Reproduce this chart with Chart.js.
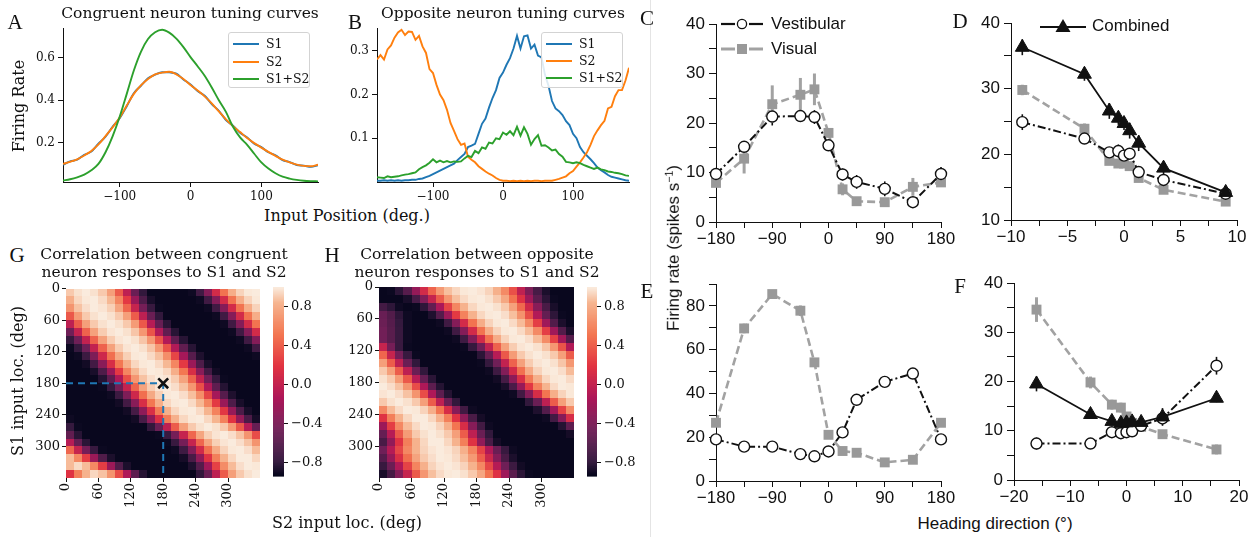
<!DOCTYPE html>
<html>
<head>
<meta charset="utf-8">
<title>Tuning curves, correlation maps and heading tuning</title>
<script src="https://cdn.jsdelivr.net/npm/chart.js@4.4.1/dist/chart.umd.min.js"></script>
<style>
  html, body { margin: 0; padding: 0; background: #fff; }
  #fig { position: relative; width: 1256px; height: 537px; overflow: hidden; background: #fff; }
  #fig canvas { position: absolute; }
  .txt { position: absolute; white-space: nowrap; color: #111; transform: translate(-50%, -50%); line-height: 1.15; }
  .serif { font-family: "DejaVu Serif", serif; }
  .sans { font-family: "Liberation Sans", Arial, sans-serif; }
  .letter { font-family: "Liberation Serif", "Times New Roman", serif; }
  .legend { position: absolute; background: rgba(255,255,255,0.85); border: 1px solid #d3d3d3; border-radius: 3px; box-sizing: border-box; }
  .legend span { position: absolute; }
  .txt sup { font-size: 0.62em; vertical-align: 0.55em; }
  .sep { position: absolute; left: 650px; top: 0; width: 1px; height: 537px; background: #e4e4e4; }
</style>
</head>
<body>
<div id="fig"><div class="sep"></div></div>
<script>
// ---------- A: congruent neuron tuning curves ----------
const posA = [-180,-170,-160,-150,-140,-130,-120,-110,-100,-90,-80,-70,-60,-50,-40,-30,-20,-10,0,10,20,30,40,50,60,70,80,90,100,110,120,130,140,150,160,170,180];
const congS1 = [0.096,0.112,0.120,0.143,0.158,0.195,0.228,0.275,0.315,0.372,0.433,0.468,0.503,0.520,0.532,0.531,0.525,0.498,0.474,0.443,0.421,0.382,0.350,0.307,0.280,0.247,0.225,0.195,0.179,0.155,0.140,0.118,0.109,0.095,0.092,0.086,0.094];
const congS2 = [0.100,0.110,0.122,0.140,0.161,0.192,0.231,0.272,0.318,0.375,0.430,0.470,0.500,0.522,0.530,0.534,0.522,0.500,0.472,0.446,0.418,0.385,0.347,0.310,0.278,0.250,0.222,0.198,0.177,0.157,0.138,0.120,0.107,0.097,0.091,0.089,0.096];
const congSum = [0.022,0.028,0.037,0.050,0.070,0.100,0.155,0.230,0.322,0.430,0.540,0.628,0.688,0.720,0.732,0.718,0.690,0.650,0.603,0.560,0.515,0.460,0.400,0.345,0.275,0.225,0.190,0.148,0.107,0.078,0.056,0.040,0.031,0.025,0.021,0.019,0.018];

// ---------- B: opposite neuron tuning curves ----------
const posB = [-180,-175,-170,-165,-160,-155,-150,-145,-140,-135,-130,-125,-120,-115,-110,-105,-100,-95,-90,-85,-80,-75,-70,-65,-60,-55,-50,-45,-40,-35,-30,-25,-20,-15,-10,-5,0,5,10,15,20,25,30,35,40,45,50,55,60,65,70,75,80,85,90,95,100,105,110,115,120,125,130,135,140,145,150,155,160,165,170,175,180];
const oppS1 = [0.003,0.003,0.004,0.003,0.004,0.003,0.004,0.003,0.004,0.004,0.005,0.005,0.007,0.008,0.011,0.014,0.018,0.022,0.026,0.030,0.034,0.038,0.042,0.050,0.057,0.064,0.080,0.083,0.087,0.110,0.133,0.145,0.170,0.192,0.210,0.238,0.250,0.268,0.283,0.305,0.334,0.305,0.333,0.335,0.305,0.314,0.289,0.285,0.245,0.220,0.185,0.168,0.162,0.153,0.139,0.130,0.110,0.100,0.080,0.068,0.060,0.052,0.043,0.033,0.027,0.022,0.016,0.012,0.010,0.008,0.006,0.004,0.003];
const oppS2 = [0.280,0.290,0.280,0.303,0.312,0.330,0.342,0.348,0.336,0.344,0.343,0.325,0.334,0.310,0.295,0.258,0.249,0.222,0.200,0.187,0.165,0.135,0.117,0.098,0.085,0.088,0.058,0.051,0.045,0.036,0.030,0.024,0.019,0.015,0.009,0.005,0.003,0.003,0.002,0.003,0.002,0.003,0.002,0.003,0.002,0.003,0.003,0.002,0.003,0.003,0.003,0.005,0.007,0.010,0.013,0.020,0.025,0.035,0.045,0.056,0.068,0.085,0.105,0.118,0.130,0.140,0.168,0.172,0.196,0.210,0.210,0.232,0.261];
const oppSum = [0.011,0.010,0.009,0.013,0.011,0.012,0.013,0.015,0.017,0.018,0.020,0.022,0.029,0.034,0.038,0.044,0.052,0.045,0.049,0.045,0.048,0.045,0.047,0.046,0.047,0.054,0.060,0.057,0.071,0.066,0.079,0.076,0.090,0.088,0.100,0.098,0.113,0.108,0.116,0.107,0.126,0.106,0.125,0.110,0.085,0.098,0.107,0.083,0.084,0.079,0.072,0.074,0.064,0.058,0.046,0.045,0.043,0.045,0.043,0.039,0.036,0.033,0.030,0.033,0.029,0.027,0.024,0.023,0.021,0.020,0.018,0.015,0.014];

const posTicks = [-100, 0, 100];
const rateTicksA = [0.2, 0.4, 0.6];
const rateTicksB = [0.1, 0.2, 0.3];
const seriesNames = ['S1', 'S2', 'S1+S2'];

// ---------- C / E: coarse heading tuning (spikes/s) ----------
const headingWide = [-180, -135, -90, -45, -22.5, 0, 22.5, 45, 90, 135, 180];
const vestC = [9.7, 15.2, 21.3, 21.4, 21.2, 15.5, 9.6, 8.1, 6.7, 4.0, 9.7];
const vestCErr = [0.8, 0.8, 1.8, 0.6, 1.4, 0.6, 1.2, 1.4, 1.5, 0.5, 1.4];
const visC = [7.9, 12.8, 23.8, 25.7, 26.8, 18.0, 6.6, 4.2, 4.0, 7.1, 8.0];
const visCErr = [0.8, 3.0, 3.8, 3.4, 3.2, 0.8, 1.2, 0.8, 0.6, 1.8, 0.8];
const vestE = [19.0, 15.7, 15.7, 12.3, 11.3, 13.5, 22.2, 37.1, 45.3, 49.1, 19.0];
const vestEErr = [1.0, 1.0, 1.2, 1.0, 1.0, 1.0, 1.2, 1.4, 1.5, 1.2, 1.0];
const visE = [26.6, 69.7, 85.4, 77.8, 54.2, 21.1, 13.7, 12.9, 8.5, 9.7, 26.6];
const visEErr = [1.2, 2.2, 1.0, 2.4, 1.5, 1.0, 1.0, 1.0, 0.8, 1.0, 1.5];

// ---------- D / F: fine heading tuning (spikes/s) ----------
const headingD = [-9, -3.5, -1.3, -0.5, 0, 0.5, 1.3, 3.5, 9];
const combD = [36.3, 32.2, 26.6, 25.5, 24.7, 23.6, 21.7, 17.9, 14.2];
const combDErr = [1.2, 1.0, 1.2, 1.0, 1.0, 1.2, 1.2, 1.0, 1.0];
const vestD = [24.9, 22.4, 20.3, 20.5, 19.8, 20.1, 17.3, 16.1, 14.0];
const vestDErr = [1.2, 0.6, 0.6, 1.0, 0.8, 0.6, 0.6, 0.5, 0.5];
const visD = [29.8, 23.9, 19.0, 18.6, 18.6, 18.2, 16.4, 14.6, 12.8];
const visDErr = [0.8, 0.8, 0.6, 0.6, 0.6, 0.6, 0.6, 0.5, 0.5];
const headingF = [-16, -6.4, -2.6, -1, 0, 1, 2.6, 6.4, 16];
const combF = [19.5, 13.3, 11.9, 11.5, 11.6, 11.8, 11.7, 12.8, 16.6];
const combFErr = [1.5, 0.8, 0.8, 0.8, 0.8, 0.8, 0.8, 1.8, 0.8];
const vestF = [7.4, 7.4, 9.7, 9.5, 9.7, 9.9, 11.0, 12.5, 23.2];
const vestFErr = [1.2, 0.6, 0.8, 1.0, 0.8, 0.8, 0.8, 0.8, 1.8];
const visF = [34.6, 19.8, 15.3, 14.7, 12.9, 11.6, 10.8, 9.3, 6.2];
const visFErr = [2.5, 1.2, 1.0, 1.0, 0.8, 0.8, 0.6, 0.6, 1.0];

const wideTicks = [-180, -135, -90, -45, 0, 45, 90, 135, 180];
const wideLabels = [-180, -90, 0, 90, 180];
const rateTicks40 = [0, 5, 10, 15, 20, 25, 30, 35, 40];
const rateLabels40 = [0, 10, 20, 30, 40];
const rateTicksD = [10, 15, 20, 25, 30, 35, 40];
const rateLabelsD = [10, 20, 30, 40];
const rateTicksE = [0, 10, 20, 30, 40, 50, 60, 70, 80, 90];
const rateLabelsE = [0, 20, 40, 60, 80];
const fineTicksD = [-10, -7.5, -5, -2.5, 0, 2.5, 5, 7.5, 10];
const fineLabelsD = [-10, -5, 0, 5, 10];
const fineTicksF = [-20, -15, -10, -5, 0, 5, 10, 15, 20];
const fineLabelsF = [-20, -10, 0, 10, 20];

// ---------- G / H: correlation maps, 15 deg bins (rows = S1, cols = S2) ----------
const corrCongruent = [
  [0.90,0.97,1.00,0.97,0.90,0.73,0.39,-0.03,-0.49,-0.79,-0.92,-0.92,-0.92,-0.92,-0.92,-0.90,-0.72,-0.35,0.10,0.50,0.80,0.93,0.99,1.00],
  [0.81,0.94,0.99,1.00,0.95,0.85,0.60,0.22,-0.23,-0.64,-0.87,-0.92,-0.92,-0.92,-0.92,-0.92,-0.90,-0.72,-0.35,0.10,0.50,0.80,0.93,0.99],
  [0.67,0.88,0.96,1.00,0.98,0.92,0.76,0.44,0.02,-0.43,-0.76,-0.91,-0.92,-0.92,-0.92,-0.92,-0.92,-0.90,-0.72,-0.35,0.10,0.50,0.80,0.93],
  [0.37,0.71,0.90,0.97,1.00,0.97,0.90,0.73,0.39,-0.03,-0.49,-0.79,-0.92,-0.92,-0.92,-0.92,-0.92,-0.92,-0.90,-0.72,-0.35,0.10,0.50,0.80],
  [-0.03,0.39,0.73,0.90,0.97,1.00,0.97,0.90,0.71,0.37,-0.07,-0.51,-0.81,-0.92,-0.92,-0.92,-0.92,-0.92,-0.92,-0.90,-0.72,-0.35,0.10,0.50],
  [-0.46,0.00,0.42,0.74,0.91,0.98,1.00,0.97,0.89,0.69,0.35,-0.10,-0.54,-0.82,-0.92,-0.92,-0.92,-0.92,-0.92,-0.92,-0.90,-0.72,-0.35,0.10],
  [-0.78,-0.46,0.00,0.42,0.74,0.91,0.98,1.00,0.97,0.89,0.69,0.35,-0.10,-0.54,-0.82,-0.92,-0.92,-0.92,-0.92,-0.92,-0.92,-0.90,-0.72,-0.35],
  [-0.91,-0.78,-0.46,0.00,0.42,0.74,0.91,0.98,1.00,0.97,0.89,0.69,0.35,-0.10,-0.54,-0.82,-0.92,-0.92,-0.92,-0.92,-0.92,-0.92,-0.90,-0.72],
  [-0.92,-0.90,-0.74,-0.38,0.07,0.48,0.78,0.92,0.99,1.00,0.95,0.87,0.64,0.28,-0.17,-0.60,-0.85,-0.92,-0.92,-0.92,-0.92,-0.92,-0.92,-0.90],
  [-0.92,-0.92,-0.89,-0.70,-0.32,0.13,0.52,0.81,0.94,0.99,1.00,0.95,0.85,0.60,0.22,-0.23,-0.64,-0.87,-0.92,-0.92,-0.92,-0.92,-0.92,-0.92],
  [-0.92,-0.92,-0.92,-0.87,-0.64,-0.23,0.22,0.60,0.85,0.95,1.00,0.99,0.94,0.81,0.52,0.13,-0.32,-0.70,-0.89,-0.92,-0.92,-0.92,-0.92,-0.92],
  [-0.92,-0.92,-0.92,-0.92,-0.83,-0.55,-0.11,0.33,0.68,0.88,0.96,1.00,0.98,0.91,0.75,0.43,0.01,-0.44,-0.77,-0.91,-0.92,-0.92,-0.92,-0.92],
  [-0.92,-0.92,-0.92,-0.92,-0.91,-0.77,-0.44,0.01,0.43,0.75,0.91,0.98,1.00,0.96,0.88,0.68,0.33,-0.11,-0.55,-0.83,-0.92,-0.92,-0.92,-0.92],
  [-0.92,-0.92,-0.92,-0.92,-0.92,-0.90,-0.74,-0.38,0.07,0.48,0.78,0.92,0.99,1.00,0.96,0.87,0.64,0.28,-0.17,-0.60,-0.85,-0.92,-0.92,-0.92],
  [-0.92,-0.92,-0.92,-0.92,-0.92,-0.92,-0.89,-0.70,-0.32,0.13,0.52,0.81,0.94,0.99,1.00,0.95,0.85,0.60,0.22,-0.23,-0.64,-0.87,-0.92,-0.92],
  [-0.92,-0.92,-0.92,-0.92,-0.92,-0.92,-0.92,-0.89,-0.69,-0.30,0.14,0.54,0.82,0.94,0.99,1.00,0.95,0.84,0.58,0.21,-0.25,-0.65,-0.87,-0.92],
  [-0.90,-0.92,-0.92,-0.92,-0.92,-0.92,-0.92,-0.92,-0.89,-0.68,-0.29,0.16,0.55,0.82,0.94,0.99,1.00,0.94,0.84,0.57,0.19,-0.26,-0.66,-0.88],
  [-0.78,-0.91,-0.92,-0.92,-0.92,-0.92,-0.92,-0.92,-0.92,-0.92,-0.79,-0.49,-0.03,0.39,0.73,0.90,0.97,1.00,0.97,0.90,0.71,0.37,-0.07,-0.51],
  [-0.54,-0.82,-0.92,-0.92,-0.92,-0.92,-0.92,-0.92,-0.92,-0.92,-0.92,-0.91,-0.76,-0.43,0.02,0.44,0.76,0.92,0.98,1.00,0.96,0.88,0.67,0.31],
  [-0.07,-0.51,-0.81,-0.92,-0.92,-0.92,-0.92,-0.92,-0.92,-0.92,-0.92,-0.92,-0.91,-0.76,-0.43,0.02,0.44,0.76,0.92,0.98,1.00,0.96,0.88,0.67],
  [0.44,0.02,-0.43,-0.76,-0.91,-0.92,-0.92,-0.92,-0.92,-0.92,-0.92,-0.92,-0.92,-0.90,-0.73,-0.36,0.09,0.49,0.79,0.93,0.99,1.00,0.96,0.86],
  [0.86,0.61,0.24,-0.22,-0.63,-0.86,-0.92,-0.92,-0.92,-0.92,-0.92,-0.92,-0.92,-0.92,-0.88,-0.67,-0.28,0.18,0.56,0.83,0.94,1.00,1.00,0.94],
  [0.86,0.95,0.86,0.61,0.24,-0.22,-0.63,-0.86,-0.92,-0.92,-0.92,-0.92,-0.92,-0.92,-0.92,-0.85,-0.61,-0.19,0.26,0.63,0.86,0.96,1.00,0.99],
  [0.18,0.56,0.83,0.94,0.88,0.67,0.31,-0.12,-0.56,-0.83,-0.92,-0.92,-0.92,-0.92,-0.92,-0.92,-0.79,-0.49,-0.03,0.39,0.73,0.90,0.97,1.00]
];
const corrOpposite = [
  [-0.92,-0.91,-0.81,-0.60,-0.26,0.10,0.43,0.70,0.87,0.94,0.99,1.00,0.98,0.93,0.82,0.62,0.33,-0.02,-0.38,-0.68,-0.86,-0.92,-0.92,-0.92],
  [-0.92,-0.92,-0.92,-0.87,-0.68,-0.36,0.02,0.38,0.68,0.87,0.95,0.99,1.00,0.97,0.90,0.77,0.50,0.17,-0.21,-0.57,-0.81,-0.91,-0.92,-0.92],
  [-0.70,-0.80,-0.90,-0.92,-0.91,-0.80,-0.53,-0.14,0.27,0.60,0.83,0.94,0.99,1.00,0.97,0.90,0.74,0.45,0.08,-0.33,-0.67,-0.87,-0.92,-0.92],
  [-0.50,-0.62,-0.80,-0.90,-0.92,-0.92,-0.85,-0.61,-0.21,0.22,0.58,0.83,0.94,0.99,1.00,0.96,0.87,0.66,0.32,-0.10,-0.52,-0.80,-0.91,-0.92],
  [-0.48,-0.60,-0.78,-0.90,-0.92,-0.92,-0.92,-0.90,-0.72,-0.35,0.10,0.50,0.80,0.93,0.99,1.00,0.95,0.86,0.62,0.25,-0.20,-0.62,-0.86,-0.92],
  [-0.45,-0.58,-0.76,-0.90,-0.92,-0.92,-0.92,-0.92,-0.90,-0.72,-0.35,0.10,0.50,0.80,0.93,0.99,1.00,0.95,0.86,0.62,0.25,-0.20,-0.62,-0.86],
  [-0.45,-0.58,-0.76,-0.90,-0.92,-0.92,-0.92,-0.92,-0.92,-0.90,-0.73,-0.36,0.09,0.49,0.79,0.93,0.99,1.00,0.96,0.86,0.63,0.26,-0.19,-0.61],
  [0.02,-0.43,-0.76,-0.91,-0.92,-0.92,-0.92,-0.92,-0.92,-0.92,-0.91,-0.78,-0.46,0.00,0.42,0.74,0.91,0.98,1.00,0.97,0.89,0.69,0.35,-0.10],
  [0.44,0.02,-0.43,-0.76,-0.91,-0.92,-0.92,-0.92,-0.92,-0.92,-0.92,-0.92,-0.81,-0.51,-0.07,0.37,0.71,0.90,0.97,1.00,0.97,0.90,0.73,0.39],
  [0.73,0.39,-0.03,-0.49,-0.79,-0.92,-0.92,-0.92,-0.92,-0.92,-0.92,-0.92,-0.91,-0.78,-0.46,0.00,0.42,0.74,0.91,0.98,1.00,0.97,0.89,0.69],
  [0.90,0.73,0.39,-0.03,-0.49,-0.79,-0.92,-0.92,-0.92,-0.92,-0.92,-0.92,-0.92,-0.90,-0.73,-0.36,0.09,0.49,0.79,0.93,0.99,1.00,0.96,0.86],
  [0.97,0.90,0.71,0.37,-0.07,-0.51,-0.81,-0.92,-0.92,-0.92,-0.92,-0.92,-0.92,-0.92,-0.89,-0.69,-0.30,0.14,0.54,0.82,0.94,0.99,1.00,0.95],
  [1.00,0.96,0.88,0.67,0.31,-0.12,-0.56,-0.83,-0.92,-0.92,-0.92,-0.92,-0.92,-0.92,-0.92,-0.87,-0.65,-0.25,0.21,0.58,0.84,0.95,1.00,0.99],
  [0.98,1.00,0.96,0.88,0.67,0.31,-0.12,-0.56,-0.83,-0.92,-0.92,-0.92,-0.92,-0.92,-0.92,-0.92,-0.90,-0.71,-0.34,0.12,0.51,0.81,0.93,0.99],
  [0.90,0.97,1.00,0.97,0.90,0.73,0.39,-0.03,-0.49,-0.79,-0.92,-0.92,-0.92,-0.92,-0.92,-0.92,-0.92,-0.92,-0.79,-0.49,-0.03,0.39,0.73,0.90],
  [0.61,0.86,0.95,1.00,0.99,0.93,0.81,0.51,0.12,-0.34,-0.71,-0.90,-0.92,-0.92,-0.92,-0.92,-0.92,-0.92,-0.92,-0.85,-0.61,-0.19,0.26,0.63],
  [0.18,0.56,0.83,0.94,1.00,1.00,0.94,0.83,0.56,0.18,-0.28,-0.67,-0.88,-0.92,-0.92,-0.92,-0.92,-0.92,-0.92,-0.92,-0.90,-0.71,-0.34,0.12],
  [-0.22,0.24,0.61,0.86,0.95,1.00,0.99,0.93,0.81,0.51,0.12,-0.34,-0.71,-0.90,-0.92,-0.92,-0.92,-0.92,-0.92,-0.92,-0.92,-0.92,-0.83,-0.56],
  [-0.51,-0.07,0.37,0.71,0.90,0.97,1.00,0.97,0.90,0.73,0.39,-0.03,-0.49,-0.79,-0.92,-0.92,-0.92,-0.92,-0.92,-0.92,-0.92,-0.92,-0.92,-0.88],
  [-0.67,-0.28,0.18,0.56,0.83,0.94,1.00,1.00,0.94,0.83,0.56,0.18,-0.28,-0.67,-0.88,-0.92,-0.92,-0.92,-0.92,-0.92,-0.92,-0.92,-0.92,-0.92],
  [-0.46,-0.08,0.29,0.61,0.83,0.93,0.98,1.00,0.98,0.93,0.82,0.59,0.27,-0.11,-0.49,-0.76,-0.90,-0.92,-0.92,-0.92,-0.92,-0.92,-0.92,-0.92],
  [-0.60,-0.24,0.15,0.48,0.75,0.90,0.96,1.00,0.99,0.95,0.87,0.70,0.40,0.05,-0.34,-0.67,-0.86,-0.92,-0.92,-0.92,-0.92,-0.92,-0.92,-0.92],
  [-0.76,-0.49,-0.11,0.27,0.59,0.82,0.93,0.98,1.00,0.98,0.93,0.83,0.61,0.29,-0.08,-0.46,-0.74,-0.89,-0.92,-0.92,-0.92,-0.92,-0.92,-0.92],
  [-0.87,-0.69,-0.36,0.02,0.38,0.68,0.87,0.95,0.99,1.00,0.97,0.90,0.77,0.50,0.17,-0.21,-0.57,-0.81,-0.91,-0.92,-0.92,-0.92,-0.92,-0.92]
];
const locTicks = [0, 60, 120, 180, 240, 300];
const cbarTicks = [-0.8, -0.4, 0, 0.4, 0.8];
const cbarRange = [-0.94, 1.0];
const markedLoc = 180;

// ---------- helpers ----------
const fig = document.getElementById('fig');
const minus = s => String(s).replace('-', '\u2212');

function addCanvas(left, top, w, h) {
  const c = document.createElement('canvas');
  c.width = w; c.height = h;
  c.style.left = left + 'px'; c.style.top = top + 'px';
  c.style.width = w + 'px'; c.style.height = h + 'px';
  fig.appendChild(c);
  return c;
}

function addText(html, x, y, cls, size, rot) {
  const d = document.createElement('div');
  d.className = 'txt ' + cls;
  d.innerHTML = html;
  d.style.left = x + 'px';
  d.style.top = y + 'px';
  d.style.fontSize = size + 'px';
  if (rot) d.style.transform = 'translate(-50%,-50%) rotate(' + rot + 'deg)';
  fig.appendChild(d);
}

function baseOptions(pad) {
  return {
    responsive: false, animation: false, devicePixelRatio: 1, events: [],
    layout: { padding: { top: pad.top || 0, right: pad.right || 0, bottom: pad.bottom || 0, left: pad.left || 0 } },
    plugins: { legend: { display: false }, tooltip: { enabled: false } }
  };
}

// linear axis with fixed box size and explicit tick list
function axis(o) {
  const shown = o.labels || o.ticks;
  return {
    type: 'linear', min: o.min, max: o.max, reverse: !!o.reverse, position: o.position,
    border: { display: o.border !== false, color: '#111', width: 1 },
    grid: { drawOnChartArea: false, drawTicks: true, tickLength: o.tickLen || 5, tickColor: '#111', tickWidth: 1 },
    ticks: {
      autoSkip: false, padding: o.pad == null ? 3 : o.pad, color: '#111', font: o.font,
      minRotation: o.rot || 0, maxRotation: o.rot || 0,
      callback: v => shown.includes(v) ? o.fmt(v) : ''
    },
    afterBuildTicks: s => { s.ticks = o.ticks.map(v => ({ value: v })); },
    afterFit: s => {
      if (s.isHorizontal()) s.height = o.size; else s.width = o.size;
      s.paddingTop = s.paddingBottom = s.paddingLeft = s.paddingRight = 0;
    }
  };
}

const pts = (xs, ys) => xs.map((x, i) => ({ x, y: ys[i] }));

// vertical error bars from each dataset's errs array
const errorBars = {
  id: 'errorBars',
  beforeDatasetsDraw(chart) {
    const { ctx, scales: { x, y } } = chart;
    chart.data.datasets.forEach(ds => {
      if (!ds.errs) return;
      ctx.save();
      ctx.strokeStyle = ds.errColor;
      ctx.lineWidth = ds.errWidth;
      ds.data.forEach((p, i) => {
        const px = x.getPixelForValue(p.x);
        ctx.beginPath();
        ctx.moveTo(px, y.getPixelForValue(p.y - ds.errs[i]));
        ctx.lineTo(px, y.getPixelForValue(p.y + ds.errs[i]));
        ctx.stroke();
      });
      ctx.restore();
    });
  }
};

// seaborn "rocket" colour map
const rocketStops = [
  [0.000, [3, 5, 26]], [0.083, [53, 25, 62]], [0.250, [112, 31, 87]], [0.417, [173, 23, 89]],
  [0.583, [225, 51, 66]], [0.750, [243, 118, 81]], [0.917, [246, 180, 143]], [1.000, [250, 235, 221]]
];
function rocket(v) {
  let t = (v - cbarRange[0]) / (cbarRange[1] - cbarRange[0]);
  t = Math.max(0, Math.min(1, t));
  for (let i = 1; i < rocketStops.length; i++) {
    const [t1, c1] = rocketStops[i];
    const [t0, c0] = rocketStops[i - 1];
    if (t <= t1) {
      const f = (t - t0) / (t1 - t0);
      const c = c0.map((a, k) => Math.round(a + (c1[k] - a) * f));
      return 'rgb(' + c.join(',') + ')';
    }
  }
  return 'rgb(250,235,221)';
}

function cellPlugin(matrix) {
  const step = 360 / matrix.length;
  return {
    id: 'cells',
    beforeDatasetsDraw(chart) {
      const { ctx, scales: { x, y } } = chart;
      ctx.save();
      matrix.forEach((row, r) => row.forEach((v, c) => {
        const x0 = Math.round(x.getPixelForValue(c * step));
        const x1 = Math.round(x.getPixelForValue((c + 1) * step));
        const y0 = Math.round(y.getPixelForValue(r * step));
        const y1 = Math.round(y.getPixelForValue((r + 1) * step));
        ctx.fillStyle = rocket(v);
        ctx.fillRect(x0, Math.min(y0, y1), x1 - x0, Math.abs(y1 - y0));
      }));
      ctx.restore();
    }
  };
}

const cbarPlugin = {
  id: 'cbar',
  beforeDatasetsDraw(chart) {
    const { ctx, chartArea: a, scales: { y } } = chart;
    const n = 190;
    for (let k = 0; k < n; k++) {
      const v0 = cbarRange[0] + (cbarRange[1] - cbarRange[0]) * k / n;
      const v1 = cbarRange[0] + (cbarRange[1] - cbarRange[0]) * (k + 1) / n;
      const p0 = y.getPixelForValue(v0), p1 = y.getPixelForValue(v1);
      ctx.fillStyle = rocket((v0 + v1) / 2);
      ctx.fillRect(a.left, p1, a.right - a.left, p0 - p1 + 0.6);
    }
  }
};

const serifTick = { family: 'DejaVu Serif', size: 12 };
const mapTick = { family: 'DejaVu Serif', size: 13 };
const sansTick = { family: 'Liberation Sans', size: 17 };
const tab = { blue: '#1f77b4', orange: '#ff7f0e', green: '#2ca02c' };

// ---------- A & B ----------
function tuningChart(left, w, yW, padRight, yMin, yMax, yTicks, xs, series) {
  const cv = addCanvas(left, 0, w, 205);
  const colors = [tab.blue, tab.orange, tab.green];
  new Chart(cv, {
    type: 'line',
    data: {
      datasets: series.map((ys, i) => ({
        data: pts(xs, ys), borderColor: colors[i], borderWidth: 1.9, pointRadius: 0,
        cubicInterpolationMode: xs.length < 40 ? 'monotone' : 'default', tension: 0, order: 3 - i
      }))
    },
    options: Object.assign(baseOptions({ top: 28, right: padRight }), {
      scales: {
        x: axis({ min: -180, max: 180, ticks: posTicks, fmt: minus, font: serifTick, size: 23, pad: 3 }),
        y: axis({ min: yMin, max: yMax, ticks: yTicks, fmt: v => v.toFixed(1), font: serifTick, size: yW, pad: 3 })
      }
    })
  });
}
tuningChart(0, 330, 63, 12, 0.015, 0.74, rateTicksA, posA, [congS1, congS2, congSum]);
tuningChart(320, 320, 57, 11, 0.0, 0.352, rateTicksB, posB, [oppS1, oppS2, oppSum]);

function lineLegend(left, top, rowY, sampleX, textX) {
  const box = document.createElement('div');
  box.className = 'legend serif';
  box.style.cssText = `left:${left}px;top:${top}px;width:82px;height:56px;font-size:12.5px;color:#111;`;
  [tab.blue, tab.orange, tab.green].forEach((c, i) => {
    const ln = document.createElement('span');
    ln.style.cssText = `left:${sampleX}px;top:${rowY[i] - 1}px;width:26px;height:0;border-top:2px solid ${c};`;
    const tx = document.createElement('span');
    tx.textContent = seriesNames[i];
    tx.style.cssText = `left:${textX}px;top:${rowY[i] - 8}px;line-height:16px;`;
    box.appendChild(ln); box.appendChild(tx);
  });
  fig.appendChild(box);
}
lineLegend(228, 32, [11, 29, 46], 4, 37);
lineLegend(541, 32, [11, 28, 45], 4, 37);

// ---------- C, D, E, F ----------
const visStyle = { borderColor: '#a2a2a2', borderWidth: 2.6, borderDash: [8, 4], pointStyle: 'rect', pointRadius: 7,
  pointBackgroundColor: '#999', pointBorderColor: '#999', pointBorderWidth: 0, errColor: '#a2a2a2', errWidth: 3, order: 3 };
const vestStyle = { borderColor: '#111', borderWidth: 2, borderDash: [8, 3, 2, 3], pointStyle: 'circle', pointRadius: 5.5,
  pointBackgroundColor: '#fff', pointBorderColor: '#111', pointBorderWidth: 1.4, errColor: '#111', errWidth: 1.6, order: 2 };
const combStyle = { borderColor: '#111', borderWidth: 1.8, pointStyle: 'triangle', pointRadius: 8,
  pointBackgroundColor: '#111', pointBorderColor: '#111', pointBorderWidth: 1, errColor: '#111', errWidth: 1.6, order: 1 };
const mk = (style, xs, ys, errs) => Object.assign({ data: pts(xs, ys), errs, clip: false, tension: 0 }, style);

function headingChart(left, top, w, h, pad, yW, xH, xAx, yAx, sets) {
  const cv = addCanvas(left, top, w, h);
  new Chart(cv, {
    type: 'line',
    data: { datasets: sets },
    options: Object.assign(baseOptions(pad), {
      scales: {
        x: axis(Object.assign({ fmt: minus, font: sansTick, size: xH, tickLen: 6, pad: 1 }, xAx)),
        y: axis(Object.assign({ fmt: minus, font: sansTick, size: yW, tickLen: 7, pad: 4 }, yAx))
      }
    }),
    plugins: [errorBars]
  });
}

headingChart(680, 0, 285, 250, { top: 24, right: 24 }, 36, 28,
  { min: -180, max: 180, ticks: wideTicks, labels: wideLabels },
  { min: 0, max: 40, ticks: rateTicks40, labels: rateLabels40 },
  [mk(vestStyle, headingWide, vestC, vestCErr), mk(visStyle, headingWide, visC, visCErr)]);

headingChart(978, 0, 278, 250, { top: 23, right: 19 }, 33, 30,
  { min: -10, max: 10, ticks: fineTicksD, labels: fineLabelsD },
  { min: 10, max: 40, ticks: rateTicksD, labels: rateLabelsD },
  [mk(combStyle, headingD, combD, combDErr), mk(vestStyle, headingD, vestD, vestDErr), mk(visStyle, headingD, visD, visDErr)]);

headingChart(680, 262, 285, 250, { top: 22, right: 24 }, 36, 31,
  { min: -180, max: 180, ticks: wideTicks, labels: wideLabels },
  { min: 0, max: 90, ticks: rateTicksE, labels: rateLabelsE },
  [mk(vestStyle, headingWide, vestE, vestEErr), mk(visStyle, headingWide, visE, visEErr)]);

headingChart(978, 262, 278, 250, { top: 21, right: 17 }, 36, 32,
  { min: -20, max: 20, ticks: fineTicksF, labels: fineLabelsF },
  { min: 0, max: 40, ticks: rateTicks40, labels: rateLabels40 },
  [mk(combStyle, headingF, combF, combFErr), mk(vestStyle, headingF, vestF, vestFErr), mk(visStyle, headingF, visF, visFErr)]);

// legend samples for the heading panels
function markerLegend(x, y, label, kind) {
  let svg = '<svg width="46" height="20" style="position:absolute;left:' + x + 'px;top:' + (y - 10) + 'px">';
  if (kind === 'vest') {
    svg += '<line x1="2" y1="10" x2="16" y2="10" stroke="#111" stroke-width="2.2"/>' +
           '<line x1="30" y1="10" x2="44" y2="10" stroke="#111" stroke-width="2.2"/>' +
           '<circle cx="23" cy="10" r="4.6" fill="#fff" stroke="#111" stroke-width="1.3"/>';
  } else if (kind === 'vis') {
    svg += '<line x1="2" y1="10" x2="16" y2="10" stroke="#a2a2a2" stroke-width="3"/>' +
           '<line x1="30" y1="10" x2="44" y2="10" stroke="#a2a2a2" stroke-width="3"/>' +
           '<rect x="18" y="5" width="10" height="10" fill="#999"/>';
  } else {
    svg += '<line x1="0" y1="11" x2="46" y2="11" stroke="#111" stroke-width="1.8"/>' +
           '<polygon points="23,3 30.5,16 15.5,16" fill="#111"/>';
  }
  svg += '</svg>';
  const holder = document.createElement('div');
  holder.innerHTML = svg;
  fig.appendChild(holder.firstChild);
  const t = document.createElement('div');
  t.className = 'txt sans';
  t.textContent = label;
  t.style.cssText = `left:${x + 52}px;top:${y}px;font-size:17px;transform:translate(0,-50%);`;
  fig.appendChild(t);
}
markerLegend(719, 24, 'Vestibular', 'vest');
markerLegend(719, 49, 'Visual', 'vis');
markerLegend(1040, 26, 'Combined', 'comb');

// ---------- G & H ----------
function mapChart(left, yW, padRight, matrix, sets) {
  const cv = addCanvas(left, 279, yW + 195 + padRight, 258);
  new Chart(cv, {
    type: 'scatter',
    data: { datasets: sets },
    options: Object.assign(baseOptions({ top: 8, right: padRight }), {
      scales: {
        x: axis({ min: 0, max: 360, ticks: locTicks, fmt: String, font: mapTick, size: 59, tickLen: 4, pad: 1, rot: 90, border: false }),
        y: axis({ min: 0, max: 360, reverse: true, ticks: locTicks, fmt: String, font: mapTick, size: yW, tickLen: 4, pad: 2, border: false })
      }
    }),
    plugins: [cellPlugin(matrix)]
  });
}
const guidePath = [{ x: 0, y: markedLoc }, { x: markedLoc, y: markedLoc }, { x: markedLoc, y: 360 }];
mapChart(0, 66, 9, corrCongruent, [
  { type: 'scatter', data: [{ x: markedLoc, y: markedLoc }], pointStyle: 'crossRot', pointRadius: 7,
    pointBorderColor: '#111', pointBorderWidth: 2.6, borderColor: '#111', order: 1 },
  { type: 'line', data: guidePath, borderColor: tab.blue, borderWidth: 2, borderDash: [7, 5],
    pointRadius: 0, order: 2 }
]);
mapChart(320, 59, 7, corrOpposite, []);

function colorbar(left, w, yW) {
  const cv = addCanvas(left, 279, w, 211);
  new Chart(cv, {
    type: 'scatter',
    data: { datasets: [] },
    options: Object.assign(baseOptions({ top: 8, left: 11, bottom: 14 }), {
      scales: {
        x: { type: 'linear', display: false },
        y: axis({ min: cbarRange[0], max: cbarRange[1], position: 'right', ticks: cbarTicks,
          fmt: v => minus(v.toFixed(1)), font: mapTick, size: yW, tickLen: 4, pad: 3, border: false })
      }
    }),
    plugins: [cbarPlugin]
  });
}
colorbar(262, 72, 50);
colorbar(576, 64, 43);

// ---------- text ----------
addText('A', 15, 22, 'letter', 21);
addText('B', 355, 22, 'letter', 21);
addText('C', 647, 18, 'letter', 21);
addText('D', 960, 21, 'letter', 21);
addText('E', 647, 291, 'letter', 21);
addText('F', 960, 286, 'letter', 21);
addText('G', 17, 255, 'letter', 21);
addText('H', 332, 255, 'letter', 21);

addText('Congruent neuron tuning curves', 190, 14, 'serif', 15.5);
addText('Opposite neuron tuning curves', 503, 14, 'serif', 15.5);
addText('Firing Rate', 19, 106, 'serif', 16, -90);
addText('Input Position (deg.)', 347, 216, 'serif', 16);

addText('Correlation between congruent', 164, 255, 'serif', 15.5);
addText('neuron responses to S1 and S2', 164, 273, 'serif', 15.5);
addText('Correlation between opposite', 477, 255, 'serif', 15.5);
addText('neuron responses to S1 and S2', 477, 273, 'serif', 15.5);
addText('S1 input loc. (deg)', 18, 381, 'serif', 16, -90);
addText('S2 input loc. (deg)', 347, 523, 'serif', 16);

addText('Firing rate (spikes s<sup>\u22121</sup>)', 673, 248, 'sans', 17, -90);
addText('Heading direction (\u00b0)', 995, 524, 'sans', 17);
</script>
</body>
</html>
